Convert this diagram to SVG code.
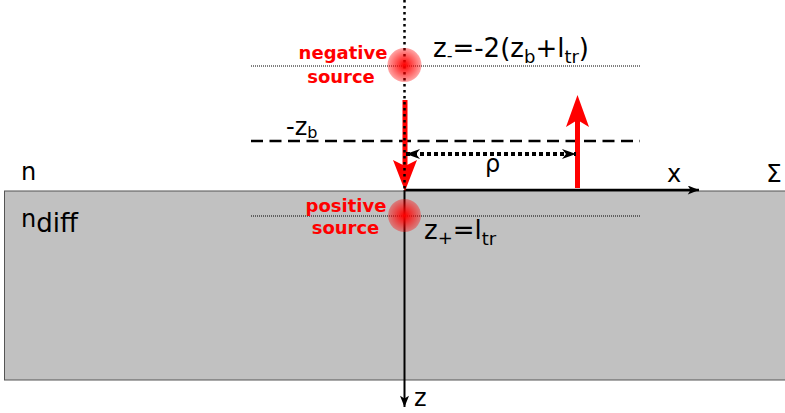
<svg xmlns="http://www.w3.org/2000/svg" width="785" height="413" viewBox="0 0 785 413">
<style>
text{font-family:"DejaVu Sans","Liberation Sans",sans-serif;fill:#000}
.lbl{font-size:24px}
.src{font-size:18px;font-weight:bold;fill:#ff0000;text-anchor:middle}
.thin{stroke:#000;stroke-width:1;stroke-dasharray:1,1;fill:none}
.red{fill:#ff0000}
</style>
<defs>
<radialGradient id="glow" cx="0.5" cy="0.5" r="0.5">
<stop offset="0" stop-color="#ff0000" stop-opacity="1"/>
<stop offset="1" stop-color="#ff0000" stop-opacity="0.35"/>
</radialGradient>
<marker id="ax" viewBox="0 0 10 8" refX="10" refY="4" markerWidth="12" markerHeight="9" markerUnits="userSpaceOnUse" orient="auto">
<path d="M0,0 L10,4 L0,8 L2.5,4 Z" fill="#000"/>
</marker>
<marker id="rho" viewBox="0 0 16 12" refX="15" refY="6" markerWidth="16" markerHeight="12" markerUnits="userSpaceOnUse" orient="auto-start-reverse">
<path d="M1,1 L15,6 L1,11 L5,6 Z" fill="#000"/>
</marker>
</defs>
<g id="medium">
<rect x="4.5" y="191" width="790" height="189" fill="#c1c1c1" stroke="#555" stroke-width="1"/>
</g>
<g id="guides">
<line x1="251" y1="66" x2="640" y2="66" class="thin"/>
<line x1="251" y1="216" x2="640" y2="216" class="thin"/>
<line x1="251" y1="141" x2="640" y2="141" stroke="#000" stroke-width="2.5" stroke-dasharray="12,6.5"/>
</g>
<g id="connectors">
<line x1="404.5" y1="190" x2="699" y2="190" stroke="#000" stroke-width="2.5" marker-end="url(#ax)"/>
<line x1="404.5" y1="190" x2="404.5" y2="407" stroke="#000" stroke-width="2" marker-end="url(#ax)"/>
<g id="down-arrow">
<rect x="402.5" y="100" width="5" height="66" class="red"/>
<path d="M405,191 L417,160 L405,166 L393,160 Z" class="red"/>
</g>
<g id="up-arrow">
<rect x="575" y="118" width="5" height="70" class="red"/>
<path d="M577.5,95 L589,127 L577.5,120 L566,127 Z" class="red"/>
</g>
<line x1="404.5" y1="0" x2="404.5" y2="190" stroke="#000" stroke-width="2.5" stroke-dasharray="2.5,3.5"/>
<line x1="406" y1="154" x2="576" y2="154" stroke="#000" stroke-width="4" stroke-dasharray="4,3" marker-start="url(#rho)" marker-end="url(#rho)"/>
</g>
<g id="negative-source">
<circle cx="404.5" cy="65" r="17" fill="url(#glow)"/>
<text class="src" x="343" y="59">negative</text>
<text class="src" x="341" y="83">source</text>
</g>
<g id="positive-source">
<circle cx="404.5" cy="215.5" r="16.5" fill="url(#glow)"/>
<text class="src" x="346" y="212">positive</text>
<text class="src" x="345.5" y="234">source</text>
</g>
<g id="labels">
<text x="433" y="57" font-size="26">z<tspan font-size="16" dy="4">-</tspan><tspan dy="-4">=-2(z</tspan><tspan font-size="18" dy="6">b</tspan><tspan dy="-6">+l</tspan><tspan font-size="18" dy="6">tr</tspan><tspan dy="-6">)</tspan></text>
<text x="424" y="239" font-size="26">z<tspan font-size="18" dy="5">+</tspan><tspan dy="-5">=l</tspan><tspan font-size="18" dy="6">tr</tspan></text>
<text class="lbl" x="286" y="135">-z<tspan font-size="16" dy="3">b</tspan></text>
<text class="lbl" x="485" y="172">ρ</text>
<text class="lbl" x="667" y="182">x</text>
<text x="766" y="182" font-size="25">Σ</text>
<text class="lbl" x="414" y="406">z</text>
<text class="lbl" x="21" y="180">n</text>
<text class="lbl" x="21" y="227">n<tspan font-size="26" dy="5">diff</tspan></text>
</g>
</svg>
